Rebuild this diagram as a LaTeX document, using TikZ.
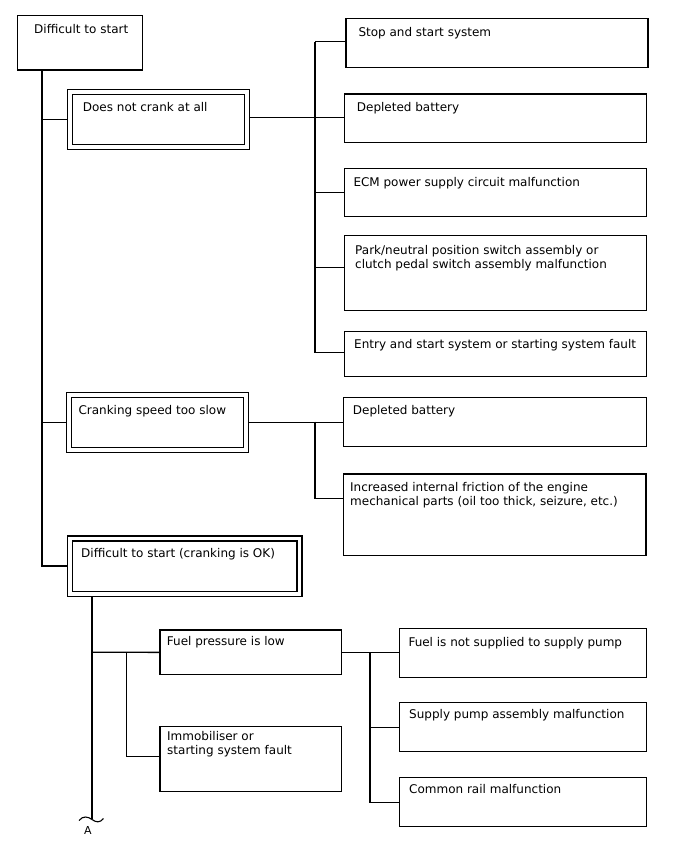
\documentclass[tikz,border=0pt]{standalone}
\usepackage{fontspec}
\setmainfont{DejaVu Sans}
\newcommand\twol[2]{\begin{tabular}[t]{@{}l@{}}#1\\#2\end{tabular}}
\begin{document}
\begin{tikzpicture}[x=1pt,y=-1pt,
  conn/.style={line width=1.3pt},
  box/.style={draw, line width=1.3pt, rectangle, inner sep=0pt, outer sep=0pt},
  dbox/.style={draw, double, double distance=3.8pt, line width=1.2pt, rectangle, inner sep=0pt, outer sep=3.1pt},
  txt/.style={anchor=base west, inner sep=0pt, font=\fontsize{12}{14}\selectfont}]
\useasboundingbox (0,0) rectangle (688,852);

% boxes
\node[box, minimum width=125pt, minimum height=54.3pt] (root) at (79.8,42.85) {};
\node[dbox, minimum width=176.9pt, minimum height=54.9pt] (dnc) at (158.25,119.25) {};
\node[dbox, minimum width=177.1pt, minimum height=54.4pt] (css) at (157.75,422.5) {};
\node[dbox, minimum width=229.7pt, minimum height=55.2pt] (dso) at (184.65,566.1) {};

\node[box, minimum width=302pt, minimum height=49pt] (r1) at (497,43.2) {};
\node[box, minimum width=302pt, minimum height=48.7pt] (r2) at (495.3,118.35) {};
\node[box, minimum width=302.4pt, minimum height=48.4pt] (r3) at (495.5,192.5) {};
\node[box, minimum width=302.4pt, minimum height=75pt] (r4) at (495.5,272.8) {};
\node[box, minimum width=302.4pt, minimum height=45.4pt] (r5) at (495.5,354) {};
\node[box, minimum width=303pt, minimum height=49pt] (r6) at (495.2,421.8) {};
\node[box, minimum width=302.3pt, minimum height=81.3pt] (r7) at (494.85,514.65) {};

\node[box, minimum width=181.7pt, minimum height=44.7pt] (fp) at (250.85,652.35) {};
\node[box, minimum width=181.7pt, minimum height=65pt] (im) at (250.85,759.2) {};
\node[box, minimum width=247pt, minimum height=49pt] (f1) at (522.8,653.2) {};
\node[box, minimum width=247pt, minimum height=49pt] (f2) at (522.8,727.2) {};
\node[box, minimum width=247pt, minimum height=49pt] (f3) at (522.8,802.2) {};

% texts
\node[txt] (troot) at (34,33.3) {Difficult to start};
\node[txt] (tdnc) at (82.7,111) {Does not crank at all};
\node[txt] (tcss) at (78.3,414) {Cranking speed too slow};
\node[txt] (tdso) at (81,557.3) {Difficult to start (cranking is OK)};
\node[txt] (tr1) at (358.3,36) {Stop and start system};
\node[txt] (tr2) at (356.7,111.7) {Depleted battery};
\node[txt] (tr3) at (353.3,186.7) {ECM power supply circuit malfunction};
\node[txt] (tr4) at (355,254.3) {\twol{Park/neutral position switch assembly or}{clutch pedal switch assembly malfunction}};
\node[txt] (tr5) at (354,348) {Entry and start system or starting system fault};
\node[txt] (tr6) at (352.7,414) {Depleted battery};
\node[txt] (tr7) at (350,491.7) {\twol{Increased internal friction of the engine}{mechanical parts (oil too thick, seizure, etc.)}};
\node[txt] (tfp) at (166.7,645.7) {Fuel pressure is low};
\node[txt] (tim) at (167,740.7) {\twol{Immobiliser or}{starting system fault}};
\node[txt] (tf1) at (408.3,646.7) {Fuel is not supplied to supply pump};
\node[txt] (tf2) at (409,718.7) {Supply pump assembly malfunction};
\node[txt] (tf3) at (409,793.3) {Common rail malfunction};

% junction coordinates
\coordinate (ta) at (42,70);
\coordinate (va) at (315,41.7);
\coordinate (vb) at (315,421.5);
\coordinate (tb) at (92,652.3);
\coordinate (tbe) at (92,818.5);
\coordinate (tc) at (126.7,652.3);
\coordinate (td) at (370,652.3);

% main trunk
\draw[conn] (ta) |- (dso.west);
\draw[conn] (dnc.west) -- (dnc.west -| ta);
\draw[conn] (css.west) -- (css.west -| ta);

% group 1
\draw[conn] ([yshift=1.5pt]dnc.east) -- ([yshift=1.5pt]dnc.east -| r2.west);
\draw[conn] ([yshift=1.5pt]r1.west) -- (va);
\draw[conn] (va) |- ([yshift=1.7pt]r5.west);
\draw[conn] (r3.west) -- (r3.west -| va);
\draw[conn] ([yshift=5.5pt]r4.west) -- ([yshift=5.5pt]r4.west -| va);

% group 2
\draw[conn] (css.east) -- (css.east -| r6.west);
\draw[conn] (vb) |- ([yshift=16.35pt]r7.west);

% bottom
\draw[conn] (dso.south -| tb) -- (tbe);
\draw[conn] (tb) -- (fp.west);
\draw[conn] (tc) |- ([yshift=2.5pt]im.west);
\draw[conn] (fp.east) -- (fp.east -| f1.west);
\draw[conn] (td) |- (f3.west);
\draw[conn] (f2.west) -- (f2.west -| td);

% break mark
\draw[conn, line width=1.1pt] (79,820.5) .. controls (83,815.5) and (88,816.5) .. (92,819.5) .. controls (96,822.5) and (100,823) .. (103.5,818.5);
\node[inner sep=0pt, font=\fontsize{11}{13}\selectfont] (lblA) at (88,830) {A};
\end{tikzpicture}
\end{document}
